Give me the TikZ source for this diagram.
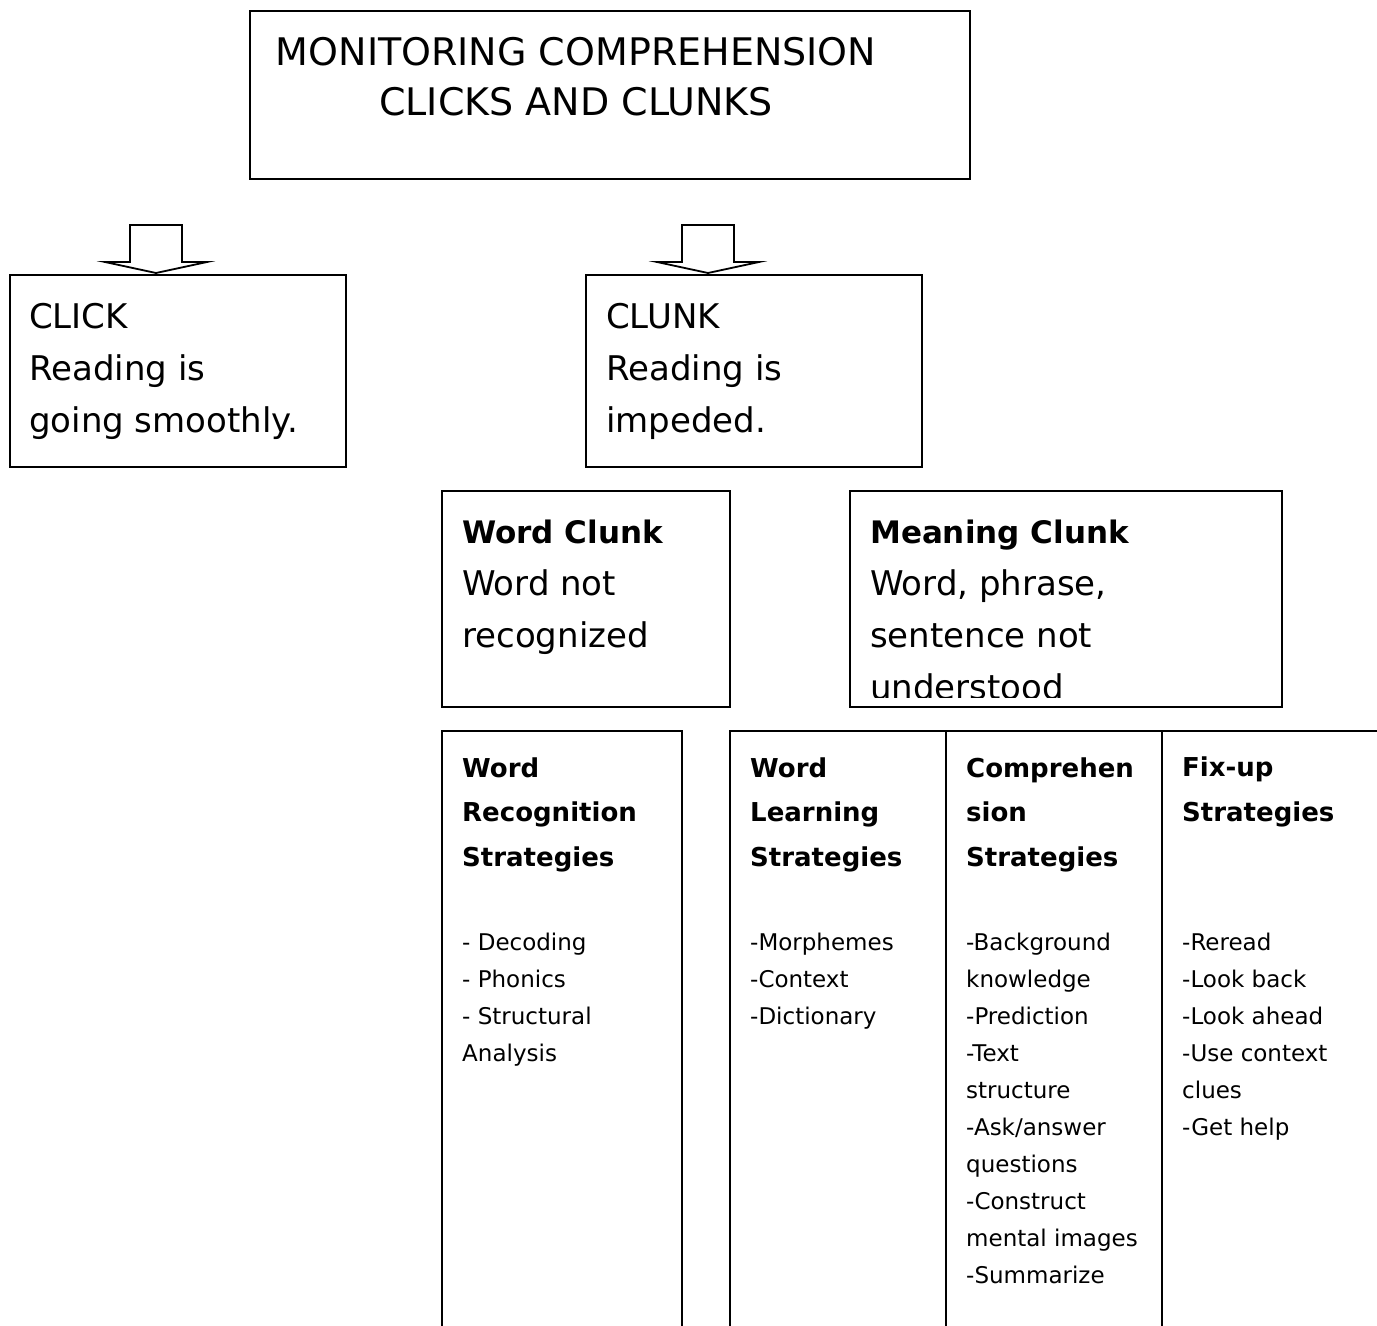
\documentclass[tikz,border=0pt]{standalone}
\usepackage{fontspec}
\setmainfont{DejaVu Sans}

\tikzset{
  box/.style={draw, line width=2pt, inner sep=0pt, anchor=north west},
  ttl/.style={font={\fontsize{38pt}{50pt}\selectfont}, align=center, inner sep=0pt, anchor=base},
  lbl/.style={font={\fontsize{34pt}{52pt}\selectfont}, align=left, inner sep=0pt, anchor=base west},
  hd/.style={font={\bfseries\fontsize{26pt}{44.5pt}\selectfont}, align=left, inner sep=0pt, anchor=base west},
  itm/.style={font={\fontsize{23pt}{37pt}\selectfont}, align=left, inner sep=0pt, anchor=base west},
  blockarrow/.style={draw, line width=1.8pt, fill=white, line join=miter}
}

\begin{document}
\begin{tikzpicture}[x=1pt,y=-1pt]
\path[fill=white, use as bounding box] (0,0) rectangle (1377,1326);

% top box (text nodes sit on the baseline of their last line)
\node[box, minimum width=720pt, minimum height=168pt] (title) at (249,10) {};
\node[ttl] (titletxt) at (576,115) {MONITORING COMPREHENSION\\CLICKS AND CLUNKS};

% hollow arrows
\foreach \ax in {156,708}{
  \draw[blockarrow] (\ax-26,225) -- (\ax+26,225) -- (\ax+26,262) -- (\ax+51,262)
    -- (\ax,273) -- (\ax-51,262) -- (\ax-26,262) -- cycle;
}

% click / clunk
\node[box, minimum width=336pt, minimum height=192pt] (click) at (9,274) {};
\node[lbl] (clicktxt) at (29,432) {CLICK\\Reading is\\going smoothly.};
\node[box, minimum width=336pt, minimum height=192pt] (clunk) at (585,274) {};
\node[lbl] (clunktxt) at (606,432) {CLUNK\\Reading is\\impeded.};

% kinds of clunk
\node[box, minimum width=288pt, minimum height=216pt] (wordclunk) at (441,490) {};
\node[lbl] (wordclunktxt) at (462,647) {{\bfseries\fontsize{31pt}{52pt}\selectfont Word Clunk}\\Word not\\recognized};
\node[box, minimum width=432pt, minimum height=216pt] (meanclunk) at (849,490) {};
\begin{scope}
\clip (849,490) rectangle (1281,697);
\node[lbl] (meanclunktxt) at (870,699) {{\bfseries\fontsize{31pt}{52pt}\selectfont Meaning Clunk}\\Word, phrase,\\sentence not\\understood};
\end{scope}

% strategy columns
\node[box, minimum width=240pt, minimum height=640pt] (colrec) at (441,730) {};
\node[box, minimum width=216pt, minimum height=640pt] (collearn) at (729,730) {};
\node[box, minimum width=216pt, minimum height=640pt] (colcomp) at (945,730) {};
\node[box, minimum width=220pt, minimum height=640pt] (colfix) at (1161,730) {};

\node[hd] (rechd) at (462,866) {Word\\Recognition\\Strategies};
\node[hd] (learnhd) at (750,866) {Word\\Learning\\Strategies};
\node[hd] (comphd) at (966,866) {Comprehen\\sion\\Strategies};
\node[hd] (fixhd) at (1182,821) {Fix-up\\Strategies};

\node[itm] (recitm) at (462,1061) {- Decoding\\- Phonics\\- Structural\\Analysis};
\node[itm] (learnitm) at (750,1024) {-Morphemes\\-Context\\-Dictionary};
\node[itm] (compitm) at (966,1283) {-Background\\knowledge\\-Prediction\\-Text\\structure\\-Ask/answer\\questions\\-Construct\\mental images\\-Summarize};
\node[itm] (fixitm) at (1182,1135) {-Reread\\-Look back\\-Look ahead\\-Use context\\clues\\-Get help};
\end{tikzpicture}
\end{document}
